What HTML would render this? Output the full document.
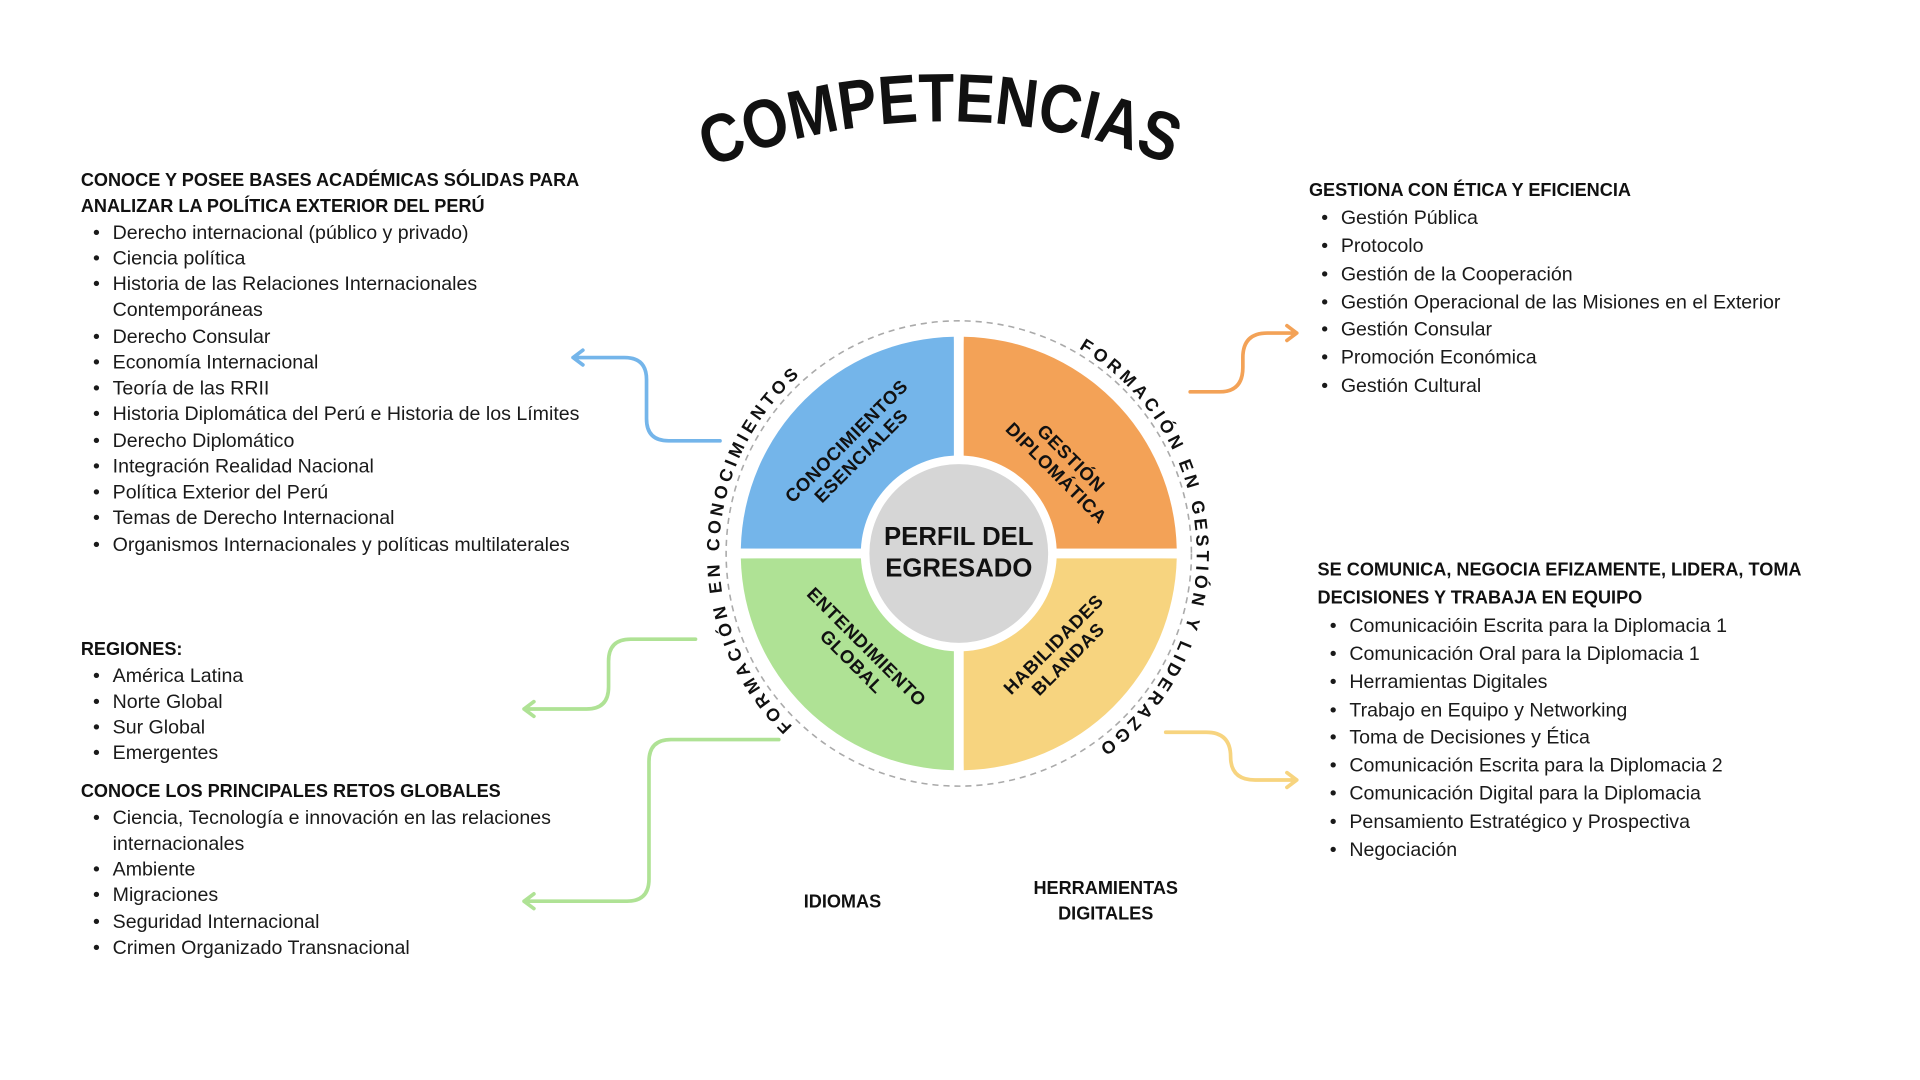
<!DOCTYPE html>
<html><head><meta charset="utf-8"><style>
html,body{margin:0;padding:0;background:#fff;}
svg{display:block;}
text{font-family:"Liberation Sans",sans-serif;fill:#111;}
.h{font-weight:bold;font-size:14.8px;}
.i{font-size:16px;fill:#1a1a1a;}
.q{font-weight:bold;font-size:15px;letter-spacing:0.5px;}
</style></head><body>
<svg width="1920" height="1080" viewBox="0 0 1568 882" xmlns="http://www.w3.org/2000/svg">
<defs>
<path id="tp" d="M 580 137 A 500 500 0 0 1 962 137"/>
<path id="lp" d="M 647.3 593.2 A 195 195 0 0 1 665.6 296.3"/>
<path id="rp" d="M 881.1 284.5 A 195 195 0 0 1 897.6 609.8"/>
</defs>
<text style="font-weight:bold;font-size:56px"><textPath href="#tp" textLength="385" lengthAdjust="spacingAndGlyphs">COMPETENCIAS</textPath></text>

<circle cx="783" cy="452" r="190" fill="none" stroke="#aaa" stroke-width="1.3" stroke-dasharray="5,4"/>
<path d="M783 452 L779 275 A177 177 0 0 0 605 448 Z" fill="#74b5ea"/>
<path d="M783 452 L787 275 A177 177 0 0 1 961 448 Z" fill="#f3a257"/>
<path d="M783 452 L605 456 A177 177 0 0 0 779 629 Z" fill="#afe295"/>
<path d="M783 452 L961 456 A177 177 0 0 1 787 629 Z" fill="#f7d47f"/>
<rect x="779" y="270" width="8" height="365" fill="#fff"/>
<rect x="600" y="448" width="366" height="8" fill="#fff"/>
<circle cx="783" cy="452" r="80" fill="#fff"/>
<circle cx="783" cy="452" r="73" fill="#d6d6d6"/>
<text class="q" style="font-size:21px;letter-spacing:0" x="783" y="445" text-anchor="middle">PERFIL DEL</text>
<text class="q" style="font-size:21px;letter-spacing:0" x="783" y="471" text-anchor="middle">EGRESADO</text>

<g transform="translate(697,366) rotate(-45)"><text class="q" text-anchor="middle" y="-3">CONOCIMIENTOS</text><text class="q" text-anchor="middle" y="14">ESENCIALES</text></g>
<g transform="translate(869,380) rotate(45)"><text class="q" text-anchor="middle" y="-3">GESTIÓN</text><text class="q" text-anchor="middle" y="14">DIPLOMÁTICA</text></g>
<g transform="translate(702,534) rotate(45)"><text class="q" text-anchor="middle" y="-3">ENTENDIMIENTO</text><text class="q" text-anchor="middle" y="14">GLOBAL</text></g>
<g transform="translate(866,532) rotate(-45)"><text class="q" text-anchor="middle" y="-3">HABILIDADES</text><text class="q" text-anchor="middle" y="14">BLANDAS</text></g>

<text style="font-weight:bold;font-size:14.5px;letter-spacing:3.2px"><textPath href="#lp">FORMACIÓN EN CONOCIMIENTOS</textPath></text>
<text style="font-weight:bold;font-size:14.5px;letter-spacing:3.2px"><textPath href="#rp">FORMACIÓN EN GESTIÓN Y LIDERAZGO</textPath></text>

<g fill="none" stroke-width="3" stroke-linecap="round" stroke-linejoin="round">
<path d="M588 360 H546 Q528 360 528 342 V310 Q528 292 510 292 H468 M476 286 L468 292 L476 298" stroke="#74b5ea"/>
<path d="M568 522 H515 Q497 522 497 540 V561 Q497 579 479 579 H428 M436 573 L428 579 L436 585" stroke="#afe295"/>
<path d="M636 604 H548 Q530 604 530 622 V718 Q530 736 512 736 H428 M436 730 L428 736 L436 742" stroke="#afe295"/>
<path d="M972 320 H996 Q1015 320 1015 300 V292 Q1015 272 1035 272 H1059 M1051 266 L1059 272 L1051 278" stroke="#f3a257"/>
<path d="M952 598 H985 Q1005 598 1005 618 Q1005 637 1025 637 H1059 M1051 631 L1059 637 L1051 643" stroke="#f7d47f"/>
</g>

<g>
<text class="h" x="66" y="152">CONOCE Y POSEE BASES ACADÉMICAS SÓLIDAS PARA</text>
<text class="h" x="66" y="173">ANALIZAR LA POLÍTICA EXTERIOR DEL PERÚ</text>
<text class="i" x="76" y="195">•</text><text class="i" x="92" y="195">Derecho internacional (público y privado)</text>
<text class="i" x="76" y="216">•</text><text class="i" x="92" y="216">Ciencia política</text>
<text class="i" x="76" y="237">•</text><text class="i" x="92" y="237">Historia de las Relaciones Internacionales</text>
<text class="i" x="92" y="258">Contemporáneas</text>
<text class="i" x="76" y="280">•</text><text class="i" x="92" y="280">Derecho Consular</text>
<text class="i" x="76" y="301">•</text><text class="i" x="92" y="301">Economía Internacional</text>
<text class="i" x="76" y="322">•</text><text class="i" x="92" y="322">Teoría de las RRII</text>
<text class="i" x="76" y="343">•</text><text class="i" x="92" y="343">Historia Diplomática del Perú e Historia de los Límites</text>
<text class="i" x="76" y="365">•</text><text class="i" x="92" y="365">Derecho Diplomático</text>
<text class="i" x="76" y="386">•</text><text class="i" x="92" y="386">Integración Realidad Nacional</text>
<text class="i" x="76" y="407">•</text><text class="i" x="92" y="407">Política Exterior del Perú</text>
<text class="i" x="76" y="428">•</text><text class="i" x="92" y="428">Temas de Derecho Internacional</text>
<text class="i" x="76" y="450">•</text><text class="i" x="92" y="450">Organismos Internacionales y políticas multilaterales</text>
<text class="h" x="66" y="535">REGIONES:</text>
<text class="i" x="76" y="557">•</text><text class="i" x="92" y="557">América Latina</text>
<text class="i" x="76" y="578">•</text><text class="i" x="92" y="578">Norte Global</text>
<text class="i" x="76" y="599">•</text><text class="i" x="92" y="599">Sur Global</text>
<text class="i" x="76" y="620">•</text><text class="i" x="92" y="620">Emergentes</text>
<text class="h" x="66" y="651">CONOCE LOS PRINCIPALES RETOS GLOBALES</text>
<text class="i" x="76" y="673">•</text><text class="i" x="92" y="673">Ciencia, Tecnología e innovación en las relaciones</text>
<text class="i" x="92" y="694">internacionales</text>
<text class="i" x="76" y="715">•</text><text class="i" x="92" y="715">Ambiente</text>
<text class="i" x="76" y="736">•</text><text class="i" x="92" y="736">Migraciones</text>
<text class="i" x="76" y="758">•</text><text class="i" x="92" y="758">Seguridad Internacional</text>
<text class="i" x="76" y="779">•</text><text class="i" x="92" y="779">Crimen Organizado Transnacional</text>
</g>

<text class="h" x="1069" y="160">GESTIONA CON ÉTICA Y EFICIENCIA</text>
<text class="i" x="1079" y="183">•</text><text class="i" x="1095" y="183">Gestión Pública</text>
<text class="i" x="1079" y="206">•</text><text class="i" x="1095" y="206">Protocolo</text>
<text class="i" x="1079" y="229">•</text><text class="i" x="1095" y="229">Gestión de la Cooperación</text>
<text class="i" x="1079" y="252">•</text><text class="i" x="1095" y="252">Gestión Operacional de las Misiones en el Exterior</text>
<text class="i" x="1079" y="274">•</text><text class="i" x="1095" y="274">Gestión Consular</text>
<text class="i" x="1079" y="297">•</text><text class="i" x="1095" y="297">Promoción Económica</text>
<text class="i" x="1079" y="320">•</text><text class="i" x="1095" y="320">Gestión Cultural</text>

<text class="h" x="1076" y="470">SE COMUNICA, NEGOCIA EFIZAMENTE, LIDERA, TOMA</text>
<text class="h" x="1076" y="493">DECISIONES Y TRABAJA EN EQUIPO</text>
<text class="i" x="1086" y="516">•</text><text class="i" x="1102" y="516">Comunicacióin Escrita para la Diplomacia 1</text>
<text class="i" x="1086" y="539">•</text><text class="i" x="1102" y="539">Comunicación Oral para la Diplomacia 1</text>
<text class="i" x="1086" y="562">•</text><text class="i" x="1102" y="562">Herramientas Digitales</text>
<text class="i" x="1086" y="585">•</text><text class="i" x="1102" y="585">Trabajo en Equipo y Networking</text>
<text class="i" x="1086" y="607">•</text><text class="i" x="1102" y="607">Toma de Decisiones y Ética</text>
<text class="i" x="1086" y="630">•</text><text class="i" x="1102" y="630">Comunicación Escrita para la Diplomacia 2</text>
<text class="i" x="1086" y="653">•</text><text class="i" x="1102" y="653">Comunicación Digital para la Diplomacia</text>
<text class="i" x="1086" y="676">•</text><text class="i" x="1102" y="676">Pensamiento Estratégico y Prospectiva</text>
<text class="i" x="1086" y="699">•</text><text class="i" x="1102" y="699">Negociación</text>

<text class="h" x="688" y="741" text-anchor="middle">IDIOMAS</text>
<text class="h" x="903" y="730" text-anchor="middle">HERRAMIENTAS</text>
<text class="h" x="903" y="751" text-anchor="middle">DIGITALES</text>
</svg>
</body></html>
